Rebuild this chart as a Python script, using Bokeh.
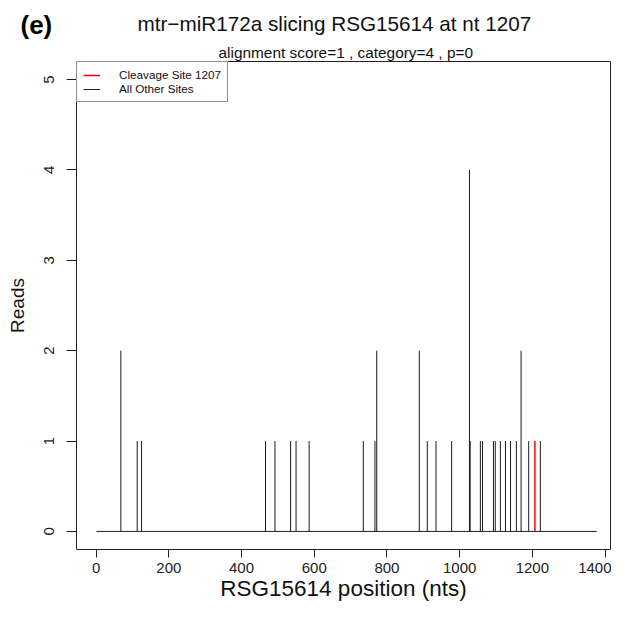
from bokeh.plotting import figure
from bokeh.models import Range1d, FixedTicker, Title, Legend, LegendItem, ColumnDataSource
from bokeh.embed import file_html
from bokeh.resources import INLINE

# ---- data ----
positions = [68, 113, 125, 466, 492, 535, 550, 586, 735, 767, 772, 889, 911, 935, 978,
             1027, 1029, 1057, 1063, 1093, 1098, 1112, 1126, 1140, 1156, 1169, 1190, 1222]
reads = [2, 1, 1, 1, 1, 1, 1, 1, 1, 1, 2, 2, 1, 1, 1,
         4, 1, 1, 1, 1, 1, 1, 1, 1, 1, 2, 1, 1]
cleavage_positions = [1207]
cleavage_reads = [1]
transcript_ends = [1, 1377]
baseline_reads = [0, 0]
x_ticks = [0, 200, 400, 600, 800, 1000, 1200, 1400]
y_ticks = [0, 1, 2, 3, 4, 5]

FONT = "Liberation Sans"

p = figure(width=611, height=604, output_backend="svg", toolbar_location=None, title=None,
           x_range=Range1d(-54, 1415), y_range=Range1d(-0.2, 5.2),
           min_border_left=76, min_border_top=61, min_border_bottom=55, min_border_right=1)
p.grid.visible = False
p.outline_line_color = "#222222"
p.outline_line_width = 1
p.background_fill_color = "white"
p.border_fill_color = "white"

# baseline (all positions with zero reads)
r_base = p.line(x=transcript_ends, y=baseline_reads, line_color="#222222", line_width=1)

src = ColumnDataSource(dict(x=positions, y=reads, y0=[0] * len(positions)))
p.segment(x0="x", y0="y0", x1="x", y1="y", source=src, line_color="#1a1a1a", line_width=1)
src_c = ColumnDataSource(dict(x=cleavage_positions, y=cleavage_reads,
                              y0=[0] * len(cleavage_positions)))
r_cleave = p.segment(x0="x", y0="y0", x1="x", y1="y", source=src_c,
                     line_color="red", line_width=1.5)

legend = Legend(items=[LegendItem(label="Cleavage Site 1207", renderers=[r_cleave]),
                       LegendItem(label="All Other Sites", renderers=[r_base])],
                location="top_left", margin=0, padding=6, spacing=1,
                glyph_width=17, glyph_height=12, label_height=12, label_standoff=19,
                label_text_font=FONT, label_text_font_size="11.7px", label_text_color="#111111",
                border_line_color="#222222", border_line_width=1, background_fill_alpha=1)
p.add_layout(legend)

for ax in (p.xaxis[0], p.yaxis[0]):
    ax.axis_line_color = None
    ax.major_tick_in = 0
    ax.minor_tick_line_color = None
    ax.major_tick_line_color = "#222222"
    ax.major_label_text_font = FONT
    ax.major_label_text_font_size = "15px"
    ax.major_label_text_color = "#222222"
    ax.axis_label_text_font = FONT
    ax.axis_label_text_font_style = "normal"
    ax.axis_label_text_color = "#111111"

p.xaxis.ticker = FixedTicker(ticks=x_ticks)
p.yaxis.ticker = FixedTicker(ticks=y_ticks)
p.xaxis.axis_label = "RSG15614 position (nts)"
p.xaxis.axis_label_text_font_size = "22.5px"
p.xaxis.major_tick_out = 8
p.xaxis.major_label_standoff = 5
p.xaxis.axis_label_standoff = 0
p.yaxis.axis_label = "Reads"
p.yaxis.axis_label_text_font_size = "19px"
p.yaxis.major_tick_out = 10
p.yaxis.major_label_orientation = "vertical"
p.yaxis.major_label_standoff = 12
p.yaxis.axis_label_standoff = 14

sub = Title(text="alignment score=1 , category=4 , p=0", align="left", offset=142,
            text_font=FONT, text_font_size="15.4px", text_font_style="normal",
            text_color="#111111", standoff=2)
p.add_layout(sub, "above")
main = Title(text="mtr\u2212miR172a slicing RSG15614 at nt 1207", align="left", offset=61,
             text_font=FONT, text_font_size="20.7px", text_font_style="normal",
             text_color="#111111", standoff=11)
p.add_layout(main, "above")
tag = Title(text="(e)", align="left", offset=-56, vertical_align="bottom",
            text_font=FONT, text_font_size="26px", text_font_style="bold",
            text_color="black", standoff=-71)
p.add_layout(tag, "above")

open("out.html", "w").write(file_html(p, INLINE))
